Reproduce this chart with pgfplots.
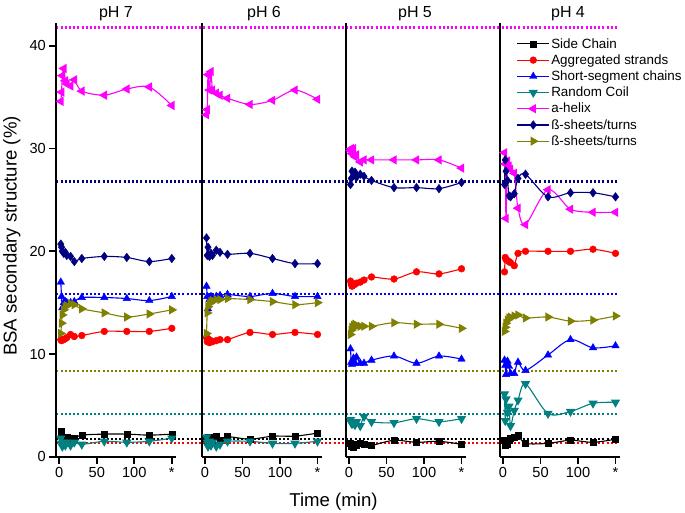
\documentclass[border=0pt]{standalone}
\usepackage{pgfplots}
\pgfplotsset{compat=1.18}
\usepackage{pgfplotstable}
\usepackage{fontspec}
\setmainfont{Liberation Sans}

\definecolor{cnavy}{RGB}{0,0,128}
\definecolor{cteal}{RGB}{0,128,128}
\definecolor{colive}{RGB}{128,128,0}
\definecolor{cmag}{RGB}{255,0,255}
\definecolor{cblue}{RGB}{0,0,255}
\definecolor{cred}{RGB}{255,0,0}

\pgfplotstableread{
t   sc   ag   ss   rc   ah   bs   bt
2   2.5  11.4 17.0 1.8  34.6 20.7 12.0
3   2.1  11.3 15.6 1.3  35.5 20.4 13.0
4   1.9  11.4 14.5 1.0  37.1 20.0 13.8
6   1.8  11.4 15.0 1.4  37.8 19.8 14.3
8   1.9  11.5 15.1 1.1  36.6 19.9 14.6
10  1.9  11.6 15.0 1.4  36.3 19.6 14.7
15  1.8  11.9 15.0 1.1  36.1 19.5 14.9
20  1.8  11.7 15.1 1.4  36.7 19.0 14.8
30  2.1  11.8 15.5 1.2  35.6 19.3 14.4
60  2.2  12.2 15.5 1.5  35.2 19.5 14.0
90  2.2  12.2 15.4 1.4  35.8 19.4 13.6
120 2.1  12.2 15.2 1.5  36.0 19.0 13.9
150 2.2  12.5 15.6 1.8  34.2 19.3 14.3
}\phseven

\pgfplotstableread{
t   sc   ag   ss   rc   ah   bs   bt
2   1.8  11.6 16.6 1.9  33.3 21.3 12.0
3   1.6  11.2 15.6 1.4  33.8 19.6 14.0
4   1.9  11.5 14.4 1.0  37.2 20.4 14.6
6   1.6  11.1 15.3 1.5  35.7 19.5 14.9
8   1.9  11.3 15.6 1.1  37.5 19.8 15.1
10  1.6  11.2 15.5 1.4  35.7 19.6 15.2
15  2.0  11.3 15.6 1.0  35.4 20.1 15.3
20  1.6  11.4 15.7 1.2  35.2 19.9 15.3
30  1.95 11.4 15.8 1.5  34.9 19.7 15.4
60  1.7  12.1 15.6 1.5  34.3 19.8 15.3
90  2.0  11.9 15.9 1.3  34.7 19.3 15.1
120 2.0  12.1 15.6 1.3  35.7 18.8 14.8
150 2.3  11.9 15.6 1.5  34.8 18.8 15.0
}\phsix

\pgfplotstableread{
t   sc   ag   ss   rc   ah   bs   bt
2   1.3  17.1 10.5 3.6  29.8 26.5 11.9
3   1.0  16.8 9.2  3.3  30.0 27.1 12.3
4   1.2  16.6 9.0  3.2  29.5 27.8 12.6
6   0.9  16.7 9.6  3.3  30.0 27.4 12.8
8   1.2  16.8 9.1  3.1  29.2 27.7 12.9
10  1.1  16.9 9.7  3.4  29.4 27.2 12.7
15  1.3  17.0 9.1  3.0  28.7 27.5 12.7
20  1.2  17.2 9.1  3.9  28.9 27.3 12.7
30  1.1  17.5 9.4  3.4  28.9 26.9 12.7
60  1.6  17.3 9.8  3.3  28.9 26.2 13.05
90  1.4  18.0 9.1  3.7  28.9 26.2 12.9
120 1.5  17.8 9.8  3.4  28.9 26.1 12.9
150 1.2  18.3 9.5  3.7  28.1 26.7 12.5
}\phfive

\pgfplotstableread{
t   sc   ag   ss   rc   ah   bs   bt
2   1.6  18.0 9.4  6.1  29.6 26.5 12.2
3   1.1  19.4 8.9  3.5  28.5 28.9 12.6
4   1.3  19.2 8.0  5.6  23.2 27.8 13.0
6   1.2  19.1 9.3  4.3  28.8 26.9 13.3
8   1.6  19.0 8.8  4.9  28.3 25.4 13.5
10  1.8  18.9 8.1  3.0  28.0 25.3 13.6
15  1.9  18.6 8.1  4.5  27.6 25.6 13.7
20  2.1  19.8 9.2  5.5  24.2 27.1 13.8
30  1.3  20.0 8.4  7.1  22.6 27.5 13.5
60  1.3  20.0 9.9  4.2  26.0 25.3 13.6
90  1.6  20.0 11.4 4.4  24.1 25.7 13.2
120 1.4  20.2 10.6 5.2  23.8 25.7 13.3
150 1.7  19.8 10.8 5.3  23.8 25.3 13.7
}\phfour

\pgfplotsset{
  panel/.style={scale only axis, width=120pt, height=433.4pt,
    xmin=-4, xmax=156, ymin=0, ymax=42.2,
    axis x line=bottom, axis y line=left,
    axis line style={-, line width=1.7pt},
    tick align=outside, major tick length=7pt,
    tick style={line width=1.7pt, black},
    xtick={0,50,100,150}, xticklabels={0,50,100,*},
    ytick=\empty, minor tick num=0,
    clip=false, anchor=south west,
    ticklabel style={font=\fontsize{14.6}{17}\selectfont},
    /pgf/number format/assume math mode=true},
  common/.style={line width=1.1pt, smooth, mark options={solid, line width=0.4pt}},
  sc/.style={common, black, mark=square*, mark size=3pt},
  ag/.style={common, cred, mark=*, mark size=3.4pt},
  ss/.style={common, cblue, mark=triangle*, mark size=4.3pt},
  rc/.style={common, cteal, mark=triangle*, mark size=4.3pt, mark options={rotate=180}},
  ah/.style={common, cmag, mark=triangle*, mark size=4.3pt, mark options={rotate=90}},
  bs/.style={common, cnavy, mark=diamond*, mark size=4.3pt},
  bt/.style={common, colive, mark=triangle*, mark size=4.3pt, mark options={rotate=270}},
  refl/.style={line width=2.2pt, dash pattern=on 2.1pt off 2.1pt}
}

\newcommand{\panelplots}[1]{%
  \addplot[sc] table[x=t,y=sc]{#1};
  \addplot[ag] table[x=t,y=ag]{#1};
  \addplot[ss] table[x=t,y=ss]{#1};
  \addplot[rc] table[x=t,y=rc]{#1};
  \addplot[ah] table[x=t,y=ah]{#1};
  \addplot[bs] table[x=t,y=bs]{#1};
  \addplot[bt] table[x=t,y=bt]{#1};
}

\begin{document}
\begin{tikzpicture}
\useasboundingbox (0,0) rectangle (685pt,512pt);

% reference lines across all panels
\begin{axis}[scale only axis, width=561.7pt, height=433.4pt, xmin=0, xmax=1,
  ymin=0, ymax=42.2, hide axis, anchor=south west, at={(56.3pt,55.3pt)}, clip=false]
  \addplot[refl, cmag] coordinates {(0,41.8) (1,41.8)};
  \addplot[refl, cnavy] coordinates {(0,26.8) (1,26.8)};
  \addplot[refl, cblue] coordinates {(0,15.87) (1,15.87)};
  \addplot[refl, colive] coordinates {(0,8.37) (1,8.37)};
  \addplot[refl, cteal] coordinates {(0,4.16) (1,4.16)};
  \addplot[refl, black] coordinates {(0,1.75) (1,1.75)};
  \addplot[refl, cred] coordinates {(0,1.36) (1,1.36)};
\end{axis}

\begin{axis}[panel, at={(56.3pt,55.3pt)}, ytick={0,10,20,30,40}, yticklabels={0,10,20,30,40}]
  \panelplots{\phseven}
\end{axis}

\begin{axis}[panel, at={(202pt,55.3pt)}]
  \panelplots{\phsix}
\end{axis}

\begin{axis}[panel, at={(346pt,55.3pt)}]
  \panelplots{\phfive}
\end{axis}

\begin{axis}[panel, at={(500pt,55.3pt)},
  legend cell align=left,
  legend image code/.code={\draw[mark repeat=2,mark phase=2,#1] plot coordinates {(0pt,0pt) (16pt,0pt) (32pt,0pt)};},
  legend style={draw=none, fill=none, inner xsep=0pt, inner ysep=0pt,
    at={(0.1375,0.9693)}, anchor=north west, row sep=2pt,
    font=\fontsize{13.4}{16}\selectfont, nodes={inner sep=1.5pt}},
  legend entries={Side Chain, Aggregated strands, Short-segment chains, Random Coil, a-helix, ß-sheets/turns, ß-sheets/turns}]
  \panelplots{\phfour}
\end{axis}

\node[anchor=base, font=\fontsize{16}{18}\selectfont] at (116pt,494.7pt) {pH 7};
\node[anchor=base, font=\fontsize{16}{18}\selectfont] at (264pt,494.7pt) {pH 6};
\node[anchor=base, font=\fontsize{16}{18}\selectfont] at (415pt,494.7pt) {pH 5};
\node[anchor=base, font=\fontsize{16}{18}\selectfont] at (568pt,494.7pt) {pH 4};
\node[anchor=base, font=\fontsize{18.6}{22}\selectfont] at (333.5pt,5.3pt) {Time (min)};
\node[anchor=base, rotate=90, font=\fontsize{18.6}{22}\selectfont] at (16.6pt,276pt) {BSA secondary structure (\%)};
\end{tikzpicture}
\end{document}
